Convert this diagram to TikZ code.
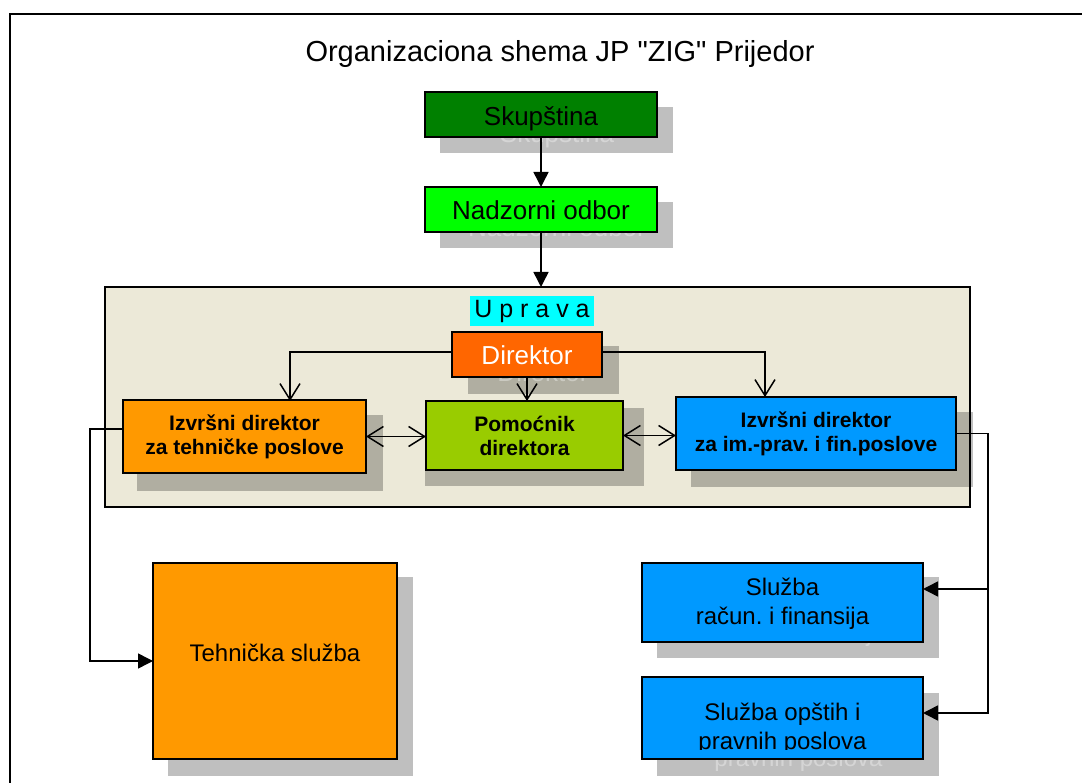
\documentclass[tikz,border=0pt]{standalone}
\usepackage{fontspec}
\setmainfont{Liberation Sans}[Ligatures=TeXOff]
\usetikzlibrary{arrows.meta}
\frenchspacing
\definecolor{cSkup}{HTML}{008000}
\definecolor{cNadz}{HTML}{00FF00}
\definecolor{cDir}{HTML}{FF6600}
\definecolor{cPom}{HTML}{99CC00}
\definecolor{cOra}{HTML}{FF9900}
\definecolor{cBlu}{HTML}{0099FF}
\definecolor{cUpr}{HTML}{ECE9D8}
\definecolor{cCyan}{HTML}{00FFFF}
\begin{document}
\begin{tikzpicture}[x=1pt,y=-1pt,
  box/.style={draw=black, line width=1.5pt, inner sep=0pt, outer sep=0pt, align=center},
  shd/.style={fill=black, fill opacity=0.25, draw=none, inner sep=0pt, outer sep=0pt},
  ghost/.style={text=white, text opacity=0.35, inner sep=0pt, align=center, anchor=base},
  conn/.style={line width=1.5pt},
  tri/.style={conn, -{Triangle[length=15pt,width=15pt]}},
  barb/.style={conn, -{Straight Barb[length=16pt,width=20pt]}},
  dbarb/.style={conn, {Straight Barb[length=16pt,width=20pt]}-{Straight Barb[length=16pt,width=20pt]}},
  fbig/.style={font=\fontsize{26}{30}\selectfont},
  fmid/.style={font=\fontsize{24}{29}\selectfont},
  fbold/.style={font=\fontsize{21}{24}\selectfont\bfseries},
]
\useasboundingbox (0,0) rectangle (1082,783);
% outer frame
\draw[line width=2.5pt] (10,783) -- (10,14) -- (1082,14);
\node[font=\fontsize{29}{33}\selectfont, inner sep=0pt, anchor=base] (title) at (560,62) {Organizaciona shema JP "ZIG" Prijedor};

% Skupstina
\node[shd, minimum width=233pt, minimum height=46pt] (skupS) at (556.5,130) {};
\node[ghost, fbig] (skupG) at (557,143) {Skupština};
\node[box, fill=cSkup, minimum width=232pt, minimum height=45pt, fbig, text height=25pt, text depth=2pt] (skup) at (541,114.5) {Skupština};

% Nadzorni odbor
\node[shd, minimum width=233pt, minimum height=46pt] (nadzS) at (556.5,225) {};
\node[ghost, fbig] (nadzG) at (557,237) {Nadzorni odbor};
\node[box, fill=cNadz, minimum width=232pt, minimum height=45pt, fbig, text height=24pt, text depth=3pt] (nadz) at (541,209.5) {Nadzorni odbor};

% Uprava
\node[box, fill=cUpr, minimum width=865pt, minimum height=220pt] (upr) at (537.5,397) {};
\node[fill=cCyan, inner sep=0pt, minimum width=124pt, minimum height=30pt, font=\fontsize{25}{29}\selectfont] (uprL) at (532,311) {U p r a v a};

% Direktor
\node[shd, minimum width=151pt, minimum height=48pt] (dirS) at (543.5,370) {};
\node[ghost, fbig] (dirG) at (543,382) {Direktor};
\node[box, fill=cDir, text=white, minimum width=150pt, minimum height=45pt, fbig, text height=24pt, text depth=3pt] (dir) at (527,354.5) {Direktor};

% Izvrsni direktor tehnicki
\node[shd, minimum width=246pt, minimum height=76pt] (techS) at (260,453) {};
\node[box, fill=cOra, minimum width=243pt, minimum height=73pt, fbold] (tech) at (244.5,436.5) {Izvršni direktor\\za tehničke poslove};

% Pomocnik
\node[shd, minimum width=219pt, minimum height=78pt] (pomS) at (534.5,447) {};
\node[box, fill=cPom, minimum width=197pt, minimum height=69pt, fbold] (pom) at (524.5,435.5) {Pomoćnik\\direktora};

% Izvrsni direktor im-prav
\node[shd, minimum width=282pt, minimum height=75pt] (bluS) at (832,449.5) {};
\node[box, fill=cBlu, minimum width=280pt, minimum height=73pt, fbold] (blu) at (816,433.5) {Izvršni direktor\\za im.-prav. i fin.poslove};

% Tehnicka sluzba
\node[shd, minimum width=245pt, minimum height=199pt] (tehS) at (290.5,676.5) {};
\node[box, fill=cOra, minimum width=244pt, minimum height=196pt, fmid, text height=17.5pt, text depth=17.5pt] (teh) at (275,661) {Tehnička služba};

% Sluzba racun. i finansija
\node[shd, minimum width=282pt, minimum height=81pt] (sl1S) at (798,617.5) {};
\node[ghost, fmid] (sl1G) at (798.5,641) {Služba\\račun. i finansija};
\node[box, fill=cBlu, minimum width=281pt, minimum height=79pt] (sl1) at (782.5,602.5) {};
\node[inner sep=0pt, align=center, fmid, anchor=base] (sl1T) at (782.5,624) {Služba\\račun. i finansija};

% Sluzba opstih i pravnih poslova
\node[shd, minimum width=282pt, minimum height=83pt] (sl2S) at (798,734.5) {};
\node[ghost, fmid] (sl2G) at (798.5,766) {Služba opštih i\\pravnih poslova};
\node[box, fill=cBlu, minimum width=281pt, minimum height=82pt] (sl2) at (782.5,718) {};
\begin{scope}
\clip (643,678) rectangle (922,749.5);
\node[inner sep=0pt, align=center, fmid, anchor=base] (sl2T) at (782.5,749) {Služba opštih i\\pravnih poslova};
\end{scope}

% connectors
\draw[tri] (skup.south) -- (skup.south |- nadz.north);
\draw[tri] (nadz.south) -- (nadz.south |- upr.north);
\coordinate (techIn) at (290,401);
\coordinate (bluIn) at (765,397);
\coordinate (dirL) at (452,352);
\coordinate (dirR) at (602,352);
\draw[barb] (dirL) -| (techIn);
\draw[barb] (dirR) -| (bluIn);
\draw[barb] (dir.south) -- (dir.south |- pom.north);
\draw[dbarb] (tech.east) -- (pom.west |- tech.east);
\draw[dbarb] (pom.east) -- (blu.west |- pom.east);
\coordinate (techOut) at (123,429);
\draw[tri] (techOut) -- (90,429) |- (teh.west);
\coordinate (sl1In) at (923,589);
\coordinate (sl2In) at (923,713);
\draw[tri] (blu.east) -- (988,433.5) |- (sl2In);
\draw[tri] (988,589) -- (sl1In);
\end{tikzpicture}
\end{document}
